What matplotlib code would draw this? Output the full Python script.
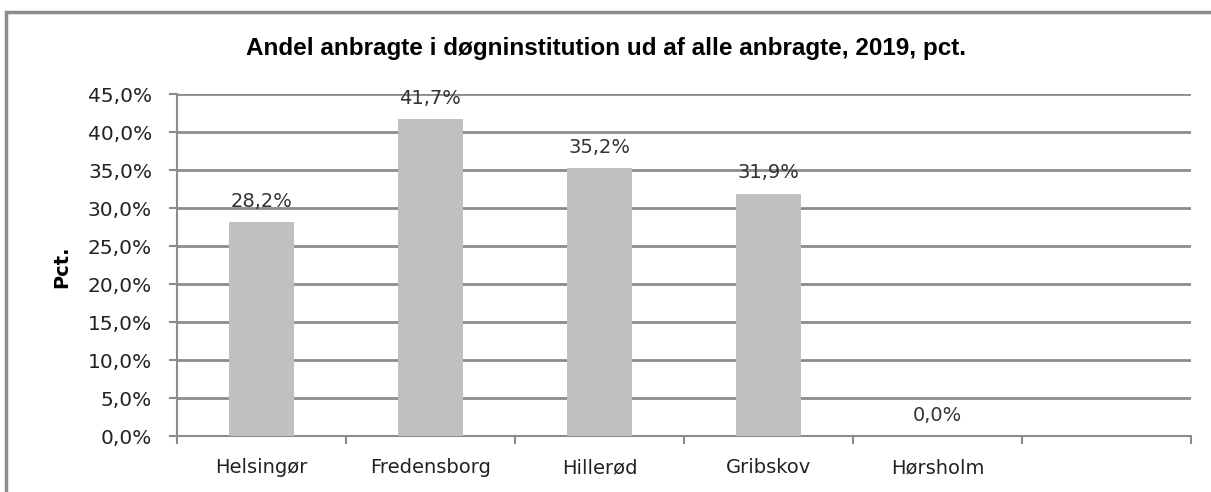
import matplotlib.pyplot as plt
from matplotlib.patches import Rectangle

kommuner = ['Helsingør', 'Fredensborg', 'Hillerød', 'Gribskov', 'Hørsholm', '']
andel = [28.2, 41.7, 35.2, 31.9, 0.0, None]
yticks = [0, 5, 10, 15, 20, 25, 30, 35, 40, 45]

plt.rcParams['font.family'] = ['DejaVu Sans']
fig = plt.figure(figsize=(12.11, 4.92), dpi=100)
ax = fig.add_axes([177/1211, 1-436/492, (1191-177)/1211, (436-94)/492])

# outer chart frame
fig.patches.append(Rectangle((6/1211, -0.1), 1.2, 1-12/492+0.1, transform=fig.transFigure,
                             fill=False, edgecolor='#8c8c8c', linewidth=2.5))

x = list(range(len(kommuner)))
vals = [v if v is not None else 0 for v in andel]
ax.bar(x[:5], vals[:5], width=0.39, color='#c0c0c0', zorder=3)
for i, v in enumerate(andel):
    if v is None:
        continue
    ax.annotate(('%.1f%%' % v).replace('.', ','), xy=(i, v), xytext=(0, 8),
                textcoords='offset points', ha='center', va='bottom',
                fontsize=14, color='#333333')

ax.set_xlim(-0.5, 5.5)
ax.set_ylim(0, 45)
ax.set_yticks(yticks)
ax.set_yticklabels([('%.1f%%' % t).replace('.', ',') for t in yticks], fontsize=14.5, color='#222222')
ax.set_xticks(x)
ax.set_xticklabels(kommuner, fontsize=14, color='#222222')
ax.set_xticks([i - 0.5 for i in range(7)], minor=True)
ax.tick_params(axis='x', which='major', length=0, pad=16)
ax.tick_params(axis='x', which='minor', length=6, width=1.5, color='#8c8c8c', direction='out')
ax.tick_params(axis='y', length=6, width=1.5, color='#8c8c8c', pad=12)
ax.grid(axis='y', color='#8c8c8c', linewidth=2, zorder=0)
ax.set_axisbelow(True)
for s in ['top', 'right']:
    ax.spines[s].set_visible(False)
for s in ['left', 'bottom']:
    ax.spines[s].set_color('#8c8c8c')
    ax.spines[s].set_linewidth(1.5)

fig.text(62/1211, 1-267/492, 'Pct.', rotation=90, ha='center', va='center',
         fontsize=14, fontweight='bold')
fig.text(0.5, 1-48/492, 'Andel anbragte i døgninstitution ud af alle anbragte, 2019, pct.',
         ha='center', va='center', fontsize=17.5, fontweight='bold',
         family=['Liberation Sans Narrow', 'Liberation Sans', 'DejaVu Sans'])

fig.savefig('out.png', dpi=100)
